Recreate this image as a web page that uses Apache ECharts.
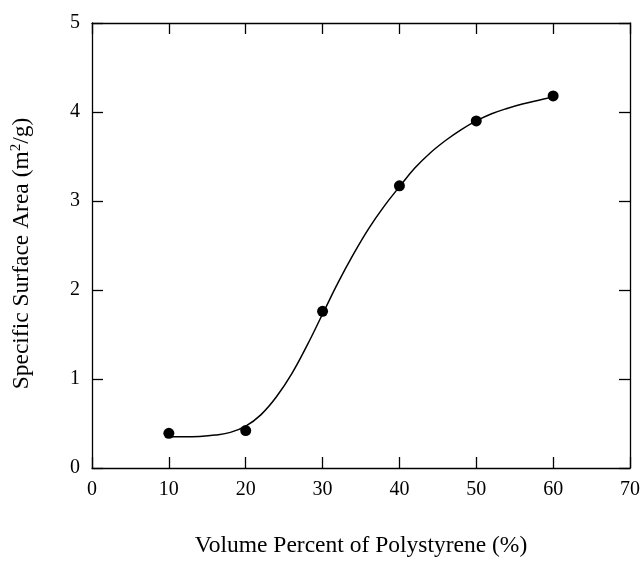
<!DOCTYPE html>
<html>
<head>
<meta charset="utf-8">
<script src="https://cdn.jsdelivr.net/npm/echarts@6/dist/echarts.min.js"></script>
<style>
  html, body { margin: 0; padding: 0; background: #fff; }
  #main { width: 642px; height: 561px; }
</style>
</head>
<body>
<div id="main"></div>
<script>
// measured points
var volPercent = [10, 20, 30, 40, 50, 60];
var surfArea = [0.39, 0.42, 1.76, 3.17, 3.90, 4.18];

// fitted curve
var curveX = [10, 12, 14, 16, 18, 20, 22, 24, 26, 28, 30, 32, 34, 36, 38, 40, 42, 44, 46, 48, 50, 52, 54, 56, 58, 60];
var curveY = [0.35, 0.35, 0.355, 0.37, 0.40, 0.47, 0.60, 0.80, 1.06, 1.38, 1.73, 2.08, 2.40, 2.69, 2.94, 3.16, 3.37, 3.54, 3.68, 3.80, 3.90, 3.98, 4.04, 4.09, 4.13, 4.17];

var font = 'Liberation Serif';

init()

function init() {
    var myChart = echarts.init(document.getElementById('main'));

    var pts = volPercent.map(function(v, i) { return [v, surfArea[i]]; });
    var fit = curveX.map(function(v, i) { return [v, curveY[i]]; });

    var axisLine = { show: true, onZero: false, lineStyle: { color: '#000', width: 1.3 } };
    var tick = { show: true, inside: true, length: 11, lineStyle: { color: '#000', width: 1.3 } };

    var option = {
        animation: false,
        grid: { left: 92, top: 23, width: 538, height: 445, containLabel: false, outerBoundsMode: 'none' },
        xAxis: [{
            type: 'value', min: 0, max: 70, interval: 10,
            position: 'bottom',
            axisLine: axisLine, axisTick: tick, splitLine: { show: false },
            axisLabel: { color: '#000', fontFamily: font, fontSize: 20, margin: 12 },
            name: 'Volume Percent of Polystyrene (%)',
            nameLocation: 'middle', nameGap: 66,
            nameTextStyle: { color: '#000', fontFamily: font, fontSize: 23.5 }
        }, {
            type: 'value', min: 0, max: 70, interval: 10,
            position: 'top',
            axisLine: axisLine, axisTick: tick, splitLine: { show: false },
            axisLabel: { show: false }
        }],
        yAxis: [{
            type: 'value', min: 0, max: 5, interval: 1,
            position: 'left',
            axisLine: axisLine, axisTick: tick, splitLine: { show: false },
            axisLabel: { color: '#000', fontFamily: font, fontSize: 20, margin: 12 },
            name: '{a|Specific Surface Area (m}{s|2}{a|/g)}',
            nameLocation: 'middle', nameGap: 58, nameRotate: 90,
            nameTextStyle: {
                color: '#000', fontFamily: font, fontSize: 23.5,
                padding: [0, 16, 0, 0],
                rich: {
                    a: { color: '#000', fontFamily: font, fontSize: 23.5 },
                    s: { color: '#000', fontFamily: font, fontSize: 15, verticalAlign: 'top', padding: [0, 0, 10, 0] }
                }
            }
        }, {
            type: 'value', min: 0, max: 5, interval: 1,
            position: 'right',
            axisLine: axisLine, axisTick: tick, splitLine: { show: false },
            axisLabel: { show: false }
        }],
        series: [{
            type: 'line',
            data: fit,
            smooth: 0.4,
            showSymbol: false,
            lineStyle: { color: '#000', width: 1.5 }
        }, {
            type: 'scatter',
            data: pts,
            symbol: 'circle',
            symbolSize: 11,
            itemStyle: { color: '#000', opacity: 1 }
        }]
    };
    myChart.setOption(option);
}
</script>
</body>
</html>
